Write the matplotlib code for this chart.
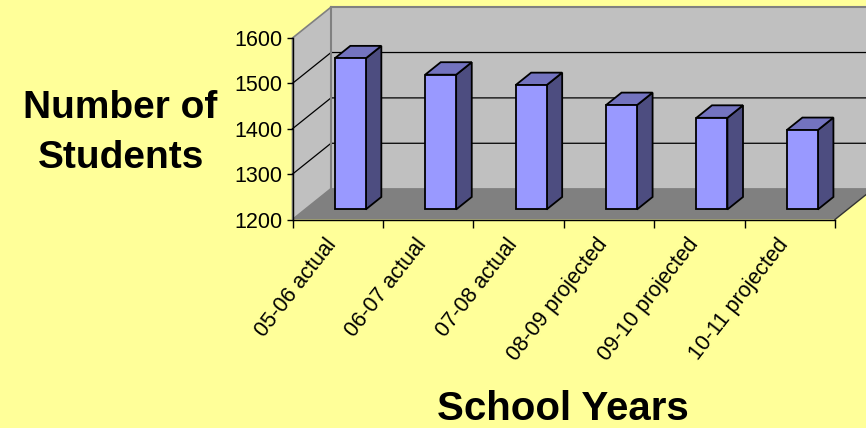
import matplotlib
matplotlib.use("Agg")
import matplotlib.pyplot as plt
from matplotlib.patches import Polygon

categories = ["05-06 actual", "06-07 actual", "07-08 actual",
              "08-09 projected", "09-10 projected", "10-11 projected"]
students = [1533, 1497, 1474, 1430, 1402, 1375]
y_ticks = [1200, 1300, 1400, 1500, 1600]

W, H = 866, 428
BG, WALL, FLOOR = "#FFFF99", "#C0C0C0", "#808080"
FRONT, SIDE, TOP = "#9999FF", "#4D4D80", "#7373BF"
plt.rcParams["font.family"] = ["Liberation Sans", "DejaVu Sans"]

fig = plt.figure(figsize=(W / 100, H / 100), dpi=100, facecolor=BG)
ax = fig.add_axes([292.5 / W, 1 - 219.5 / H, 542.5 / W, 181.5 / H])
ax.set_xlim(0, len(categories))
ax.set_ylim(y_ticks[0], y_ticks[-1])
ax.patch.set_alpha(0)
for s in ("top", "right"):
    ax.spines[s].set_visible(False)
for s in ("left", "bottom"):
    ax.spines[s].set_linewidth(1.0)
    ax.spines[s].set_zorder(20)

DX, DY = 0.426, 68.0
ymin, ymax = y_ticks[0], y_ticks[-1]
nx = len(categories)

def P(c, v, d):
    return (c + d * DX, v + d * DY)

def poly(pts, fc, ec, lw, z):
    ax.add_patch(Polygon(pts, closed=True, fc=fc, ec=ec, lw=lw, zorder=z,
                         clip_on=False, joinstyle="miter"))

poly([P(0, ymin, 1), P(nx, ymin, 1), P(nx, ymax, 1), P(0, ymax, 1)], WALL, FLOOR, 1.2, 1)
poly([P(0, ymin, 0), P(0, ymin, 1), P(0, ymax, 1), P(0, ymax, 0)], WALL, FLOOR, 1.2, 1)
poly([P(0, ymin, 0), P(nx, ymin, 0), P(nx, ymin, 1), P(0, ymin, 1)], FLOOR, "none", 0, 2)
ax.plot(*zip(P(nx, ymin, 0), P(nx, ymin, 1)), color="#333333", lw=1, zorder=2, clip_on=False)
for t in y_ticks[1:-1]:
    ax.plot(*zip(P(0, t, 0), P(0, t, 1), P(nx, t, 1)), color="black", lw=0.9,
            zorder=3, clip_on=False)
ax.plot(*zip(P(0, ymax, 1), P(nx, ymax, 1)), color=FLOOR, lw=1.5, zorder=3, clip_on=False)
ax.plot(*zip(P(0, ymin, 1), P(0, ymax, 1)), color=FLOOR, lw=1.5, zorder=3, clip_on=False)

BW, D0, D1 = 0.343, 0.325, 0.73
for i, v in enumerate(students):
    l, r = i + 0.5 - BW / 2, i + 0.5 + BW / 2
    z = 5 + i
    poly([P(r, ymin, D0), P(r, ymin, D1), P(r, v, D1), P(r, v, D0)], SIDE, "black", 1.3, z)
    poly([P(l, v, D0), P(r, v, D0), P(r, v, D1), P(l, v, D1)], TOP, "black", 1.3, z)
    poly([P(l, ymin, D0), P(r, ymin, D0), P(r, v, D0), P(l, v, D0)], FRONT, "black", 1.3, z)

ax.set_yticks(y_ticks)
ax.set_xticks(range(nx + 1))
ax.set_xticklabels([""] * (nx + 1))
ax.tick_params(axis="y", length=4, width=1, labelsize=15.5, pad=3)
ax.tick_params(axis="x", length=6, width=1)
for i, c in enumerate(categories):
    ax.annotate(c, xy=(i + 0.5, ymin), xycoords="data", xytext=(-3.5, -15.5),
                textcoords="offset points", rotation=52, rotation_mode="anchor",
                ha="right", va="center", fontsize=15.5)

fig.text(120 / W, 1 - 108 / H, "Number of", fontsize=28, fontweight="bold", ha="center", va="center")
fig.text(121 / W, 1 - 158 / H, "Students", fontsize=28, fontweight="bold", ha="center", va="center")
fig.text(563 / W, 1 - 409 / H, "School Years", fontsize=29, fontweight="bold", ha="center", va="center")

fig.savefig("out.png", dpi=100, facecolor=BG)
